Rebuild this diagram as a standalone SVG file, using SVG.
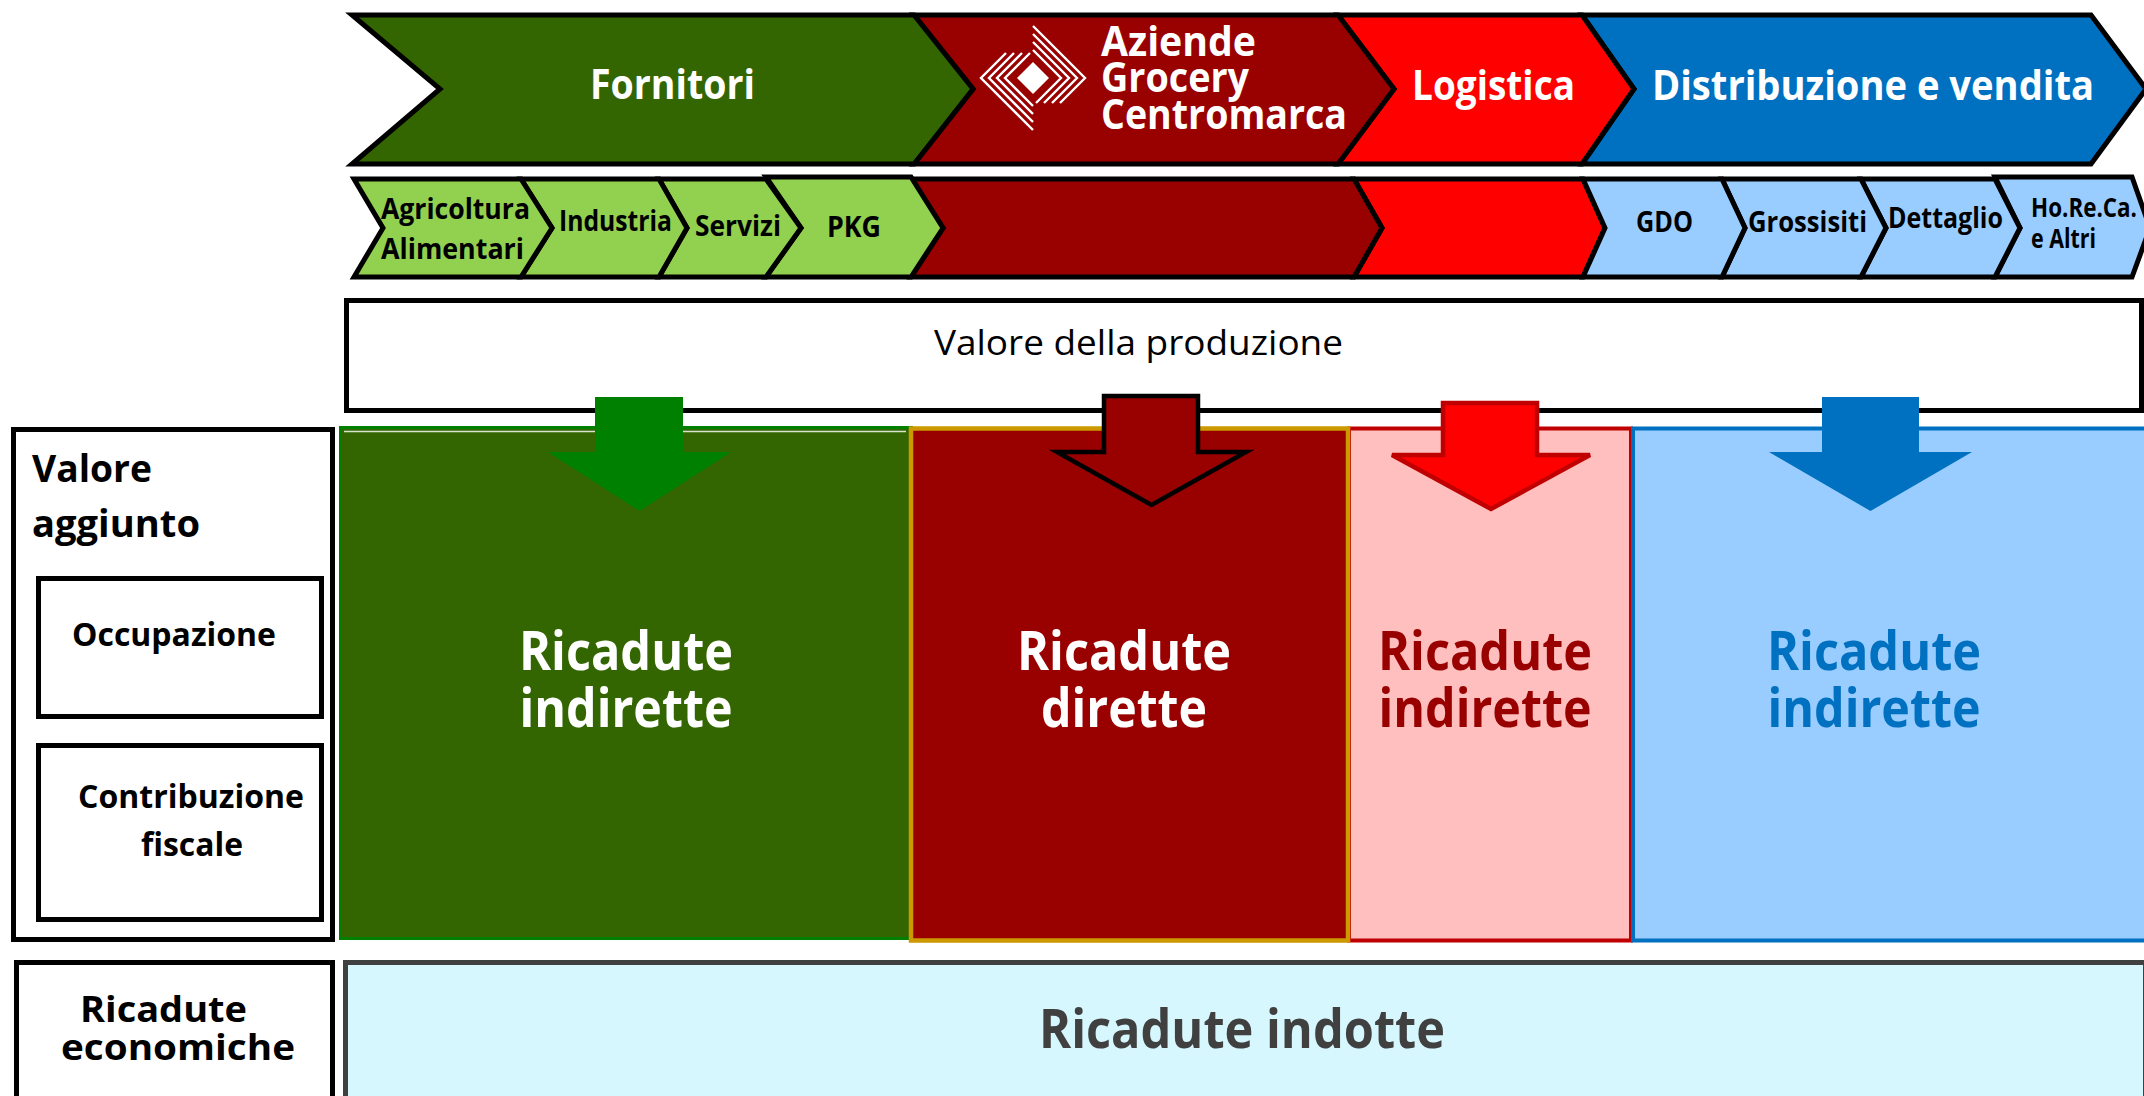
<svg xmlns="http://www.w3.org/2000/svg" width="2144" height="1096" viewBox="0 0 2144 1096">
<style>
text{font-family:"Open Sans","Liberation Sans",sans-serif;font-weight:700;fill:#000}
.w{fill:#fff}
.k{stroke:#000;stroke-width:5;stroke-linejoin:miter}
.t{font-size:41px}
.s{font-size:29px}
.big{font-size:54px;text-anchor:middle}
.l{font-size:36px}
.box{fill:#fff;stroke:#000;stroke-width:5}
.g1{fill:#336600}.r1{fill:#990000}.r2{fill:#ff0000}.b1{fill:#0070c0}.g2{fill:#92d050}.b2{fill:#99ccff}
.lg{fill:none;stroke:#fff;stroke-width:2.4}
</style>
<defs>
<g id="logo-half"><path class="lg" d="M0-52L52 0L27 25M0-44L44 0L19 25M0-36L36 0L11 25M0-28L28 0L3 25"/></g>
</defs>
<rect width="2144" height="1096" fill="#fff"/>

<g id="top-distribuzione"><polygon class="b1 k" points="1582,15 2091,15 2146,89 2091,164 1582,164 1634,89"/><text class="t w" x="1652" y="100" textLength="442" lengthAdjust="spacingAndGlyphs">Distribuzione e vendita</text></g>
<g id="top-logistica"><polygon class="r2 k" points="1338,15 1582,15 1634,89 1582,164 1338,164 1394,89"/><text class="t w" x="1412" y="100" textLength="163" lengthAdjust="spacingAndGlyphs">Logistica</text></g>
<g id="top-aziende"><polygon class="r1 k" points="914,15 1338,15 1394,89 1338,164 914,164 973,89"/>
<g id="logo" transform="translate(1033,78)"><use href="#logo-half"/><use href="#logo-half" transform="rotate(180)"/><polygon points="0,-16 16,0 0,16 -16,0" fill="#fff"/></g>
<text class="t w" x="1101" y="56" textLength="155" lengthAdjust="spacingAndGlyphs">Aziende</text><text class="t w" x="1101" y="92" textLength="148" lengthAdjust="spacingAndGlyphs">Grocery</text><text class="t w" x="1101" y="129" textLength="246" lengthAdjust="spacingAndGlyphs">Centromarca</text></g>
<g id="top-fornitori"><polygon class="g1 k" points="352,15 914,15 973,89 914,164 352,164 440,89"/><text class="t w" x="590" y="99" textLength="165" lengthAdjust="spacingAndGlyphs">Fornitori</text></g>

<g id="sub-rosso2"><polygon class="r2 k" points="1354,179 1583,179 1605,228 1583,277 1354,277 1382,228"/></g>
<g id="sub-rosso1"><polygon class="r1 k" points="911,179 1354,179 1382,228 1354,277 911,277 943,228"/></g>
<g id="sub-horeca"><polygon class="b2 k" points="1995,177 2132,177 2150,228 2132,277 1995,277 2020,228"/><text class="s" x="2031" y="217" textLength="106" lengthAdjust="spacingAndGlyphs" style="font-size:26px">Ho.Re.Ca.</text><text class="s" x="2031" y="248" textLength="65" lengthAdjust="spacingAndGlyphs" style="font-size:26px">e Altri</text></g>
<g id="sub-dettaglio"><polygon class="b2 k" points="1861,179 1995,179 2020,228 1995,277 1861,277 1886,228"/><text class="s" x="1888" y="228" textLength="115" lengthAdjust="spacingAndGlyphs">Dettaglio</text></g>
<g id="sub-grossisti"><polygon class="b2 k" points="1722,179 1861,179 1886,228 1861,277 1722,277 1745,228"/><text class="s" x="1748" y="232" textLength="119" lengthAdjust="spacingAndGlyphs">Grossisiti</text></g>
<g id="sub-gdo"><polygon class="b2 k" points="1583,179 1722,179 1745,228 1722,277 1583,277 1605,228"/><text class="s" x="1636" y="232" textLength="57" lengthAdjust="spacingAndGlyphs">GDO</text></g>
<g id="sub-pkg"><polygon class="g2 k" points="766,177 911,177 943,228 911,277 766,277 801,228"/><text class="s" x="827" y="237" textLength="54" lengthAdjust="spacingAndGlyphs">PKG</text></g>
<g id="sub-servizi"><polygon class="g2 k" points="659,179 766,179 801,228 766,277 659,277 687,228"/><text class="s" x="695" y="236" textLength="86" lengthAdjust="spacingAndGlyphs">Servizi</text></g>
<g id="sub-industria"><polygon class="g2 k" points="521,179 659,179 687,228 659,277 521,277 552,228"/><text class="s" x="559" y="231" textLength="113" lengthAdjust="spacingAndGlyphs">Industria</text></g>
<g id="sub-agricoltura"><polygon class="g2 k" points="354,179 521,179 552,228 521,277 354,277 383,228"/><text class="s" x="381" y="219" textLength="149" lengthAdjust="spacingAndGlyphs">Agricoltura</text><text class="s" x="381" y="259" textLength="143" lengthAdjust="spacingAndGlyphs">Alimentari</text></g>

<g id="valore-produzione"><rect class="box" x="346.5" y="300.500" width="1795" height="110"/><text x="934" y="355" textLength="409" lengthAdjust="spacingAndGlyphs" style="font-size:35px;font-weight:400">Valore della produzione</text></g>

<g id="panel-fornitori"><rect x="340.500" y="427.500" width="571" height="511" fill="#336600" stroke="#008000" stroke-width="3"/><line x1="344" y1="431.500" x2="906" y2="431.500" stroke="#d8e4d0" stroke-width="1.500"/><text class="big w" x="626" y="670" textLength="214" lengthAdjust="spacingAndGlyphs">Ricadute</text><text class="big w" x="626" y="727" textLength="213" lengthAdjust="spacingAndGlyphs">indirette</text></g>
<g id="panel-logistica"><rect x="1349" y="428.500" width="282" height="512" fill="#ffbfbf" stroke="#c00000" stroke-width="4"/><text class="big" style="fill:#990000" x="1485" y="670" textLength="214" lengthAdjust="spacingAndGlyphs">Ricadute</text><text class="big" style="fill:#990000" x="1485" y="727" textLength="213" lengthAdjust="spacingAndGlyphs">indirette</text></g>
<g id="panel-aziende"><rect x="911" y="428.500" width="437" height="512" fill="#990000" stroke="#cc9900" stroke-width="4.500"/><text class="big w" x="1124" y="670" textLength="214" lengthAdjust="spacingAndGlyphs">Ricadute</text><text class="big w" x="1124" y="727" textLength="166" lengthAdjust="spacingAndGlyphs">dirette</text></g>
<g id="panel-distribuzione"><rect x="1633" y="428.500" width="520" height="512" fill="#99ccff" stroke="#0070c0" stroke-width="4"/><text class="big" style="fill:#0070c0" x="1874" y="670" textLength="214" lengthAdjust="spacingAndGlyphs">Ricadute</text><text class="big" style="fill:#0070c0" x="1874" y="727" textLength="213" lengthAdjust="spacingAndGlyphs">indirette</text></g>

<g id="connectors">
<polygon fill="#008000" points="595,397 683,397 683,452 731,452 639.500,511 548,452 595,452"/>
<polygon fill="#990000" stroke="#000" stroke-width="4.500" points="1104,396 1198,396 1198,452 1246,452 1151.500,505 1057,452 1104,452"/>
<polygon fill="#ff0000" stroke="#c00000" stroke-width="4.500" points="1443,403 1537,403 1537,455 1590,455 1491,509 1392,455 1443,455"/>
<polygon fill="#0070c0" points="1822,397 1919,397 1919,452 1972,452 1870.500,511 1769,452 1822,452"/>
</g>

<g id="valore-aggiunto"><rect class="box" x="13.500" y="429.500" width="319" height="510"/><text x="32" y="482" textLength="120" lengthAdjust="spacingAndGlyphs" style="font-size:38px">Valore</text><text x="32" y="537" textLength="168" lengthAdjust="spacingAndGlyphs" style="font-size:38px">aggiunto</text></g>
<g id="occupazione"><rect class="box" x="38.500" y="578.500" width="283" height="138"/><text x="72" y="646" textLength="204" lengthAdjust="spacingAndGlyphs" style="font-size:32px">Occupazione</text></g>
<g id="contribuzione"><rect class="box" x="38.500" y="745.500" width="283" height="174"/><text x="78" y="808" textLength="226" lengthAdjust="spacingAndGlyphs" style="font-size:32px">Contribuzione</text><text x="141" y="856" textLength="102" lengthAdjust="spacingAndGlyphs" style="font-size:32px">fiscale</text></g>
<g id="ricadute-economiche"><rect class="box" x="16.500" y="962.500" width="316" height="140"/><text class="l" x="80" y="1022" textLength="167" lengthAdjust="spacingAndGlyphs">Ricadute</text><text class="l" x="61" y="1060" textLength="234" lengthAdjust="spacingAndGlyphs">economiche</text></g>
<g id="ricadute-indotte"><rect x="345.500" y="962.500" width="1800" height="140" fill="#d5f7fd" stroke="#404040" stroke-width="5"/><text class="big" style="fill:#404040" x="1242" y="1048" textLength="406" lengthAdjust="spacingAndGlyphs">Ricadute indotte</text></g>
</svg>
